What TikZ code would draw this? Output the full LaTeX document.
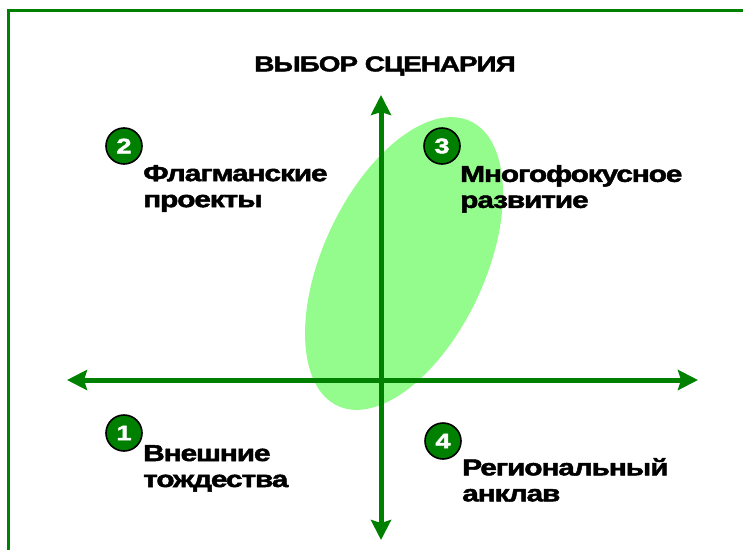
\documentclass[tikz,border=0pt]{standalone}
\usepackage{fontspec}
\setmainfont{Liberation Sans}
\newfontfamily\heavyfont{Liberation Sans}[FakeStretch=1.3,FakeBold=2,LetterSpace=-5]
\usetikzlibrary{arrows.meta}
\definecolor{axisgreen}{RGB}{0,128,0}
\definecolor{ovalgreen}{RGB}{148,252,140}

\tikzset{
  axis/.style={line width=5pt,draw=axisgreen,
    {Stealth[length=20pt,width=20pt,inset=3pt]}-{Stealth[length=20pt,width=20pt,inset=3pt]}},
  numdot/.style={circle,draw=black,line width=1.6pt,fill=axisgreen,text=white,
    minimum size=36pt,inner sep=0pt,font=\heavyfont\bfseries\fontsize{21}{21}\selectfont},
  quadtext/.style={anchor=north west,inner sep=0pt,align=left,
    font=\heavyfont\bfseries\fontsize{23}{26}\selectfont}
}

\begin{document}
\begin{tikzpicture}[x=1pt,y=-1pt]
\useasboundingbox (0,0) rectangle (743,549);
% frame
\draw[axisgreen,line width=3pt] (8.5,10) rectangle (780,580);
% oval behind the axes
\fill[ovalgreen,rotate around={65:(404,263.5)}] (404,263.5) ellipse [x radius=157,y radius=81];
% axes
\coordinate (west) at (67,380);
\coordinate (east) at (698,380);
\coordinate (north) at (381,95);
\coordinate (south) at (381,540);
\draw[axis] (west) -- (east);
\draw[axis] (south) -- (north);
\node (title) at (385,66) [font=\heavyfont\bfseries\fontsize{21.5}{21.5}\selectfont] {ВЫБОР СЦЕНАРИЯ};
% quadrants
\node (n2) at (124,146) [numdot] {2};
\node (t2) at (143,165) [quadtext] {Флагманские\\проекты};
\node (n3) at (442,146) [numdot] {3};
\node (t3) at (460,165) [quadtext] {Многофокусное\\развитие};
\node (n1) at (124,433) [numdot] {1};
\node (t1) at (143,445) [quadtext] {Внешние\\тождества};
\node (n4) at (443,441) [numdot] {4};
\node (t4) at (462,458) [quadtext] {Региональный\\анклав};
\end{tikzpicture}
\end{document}
